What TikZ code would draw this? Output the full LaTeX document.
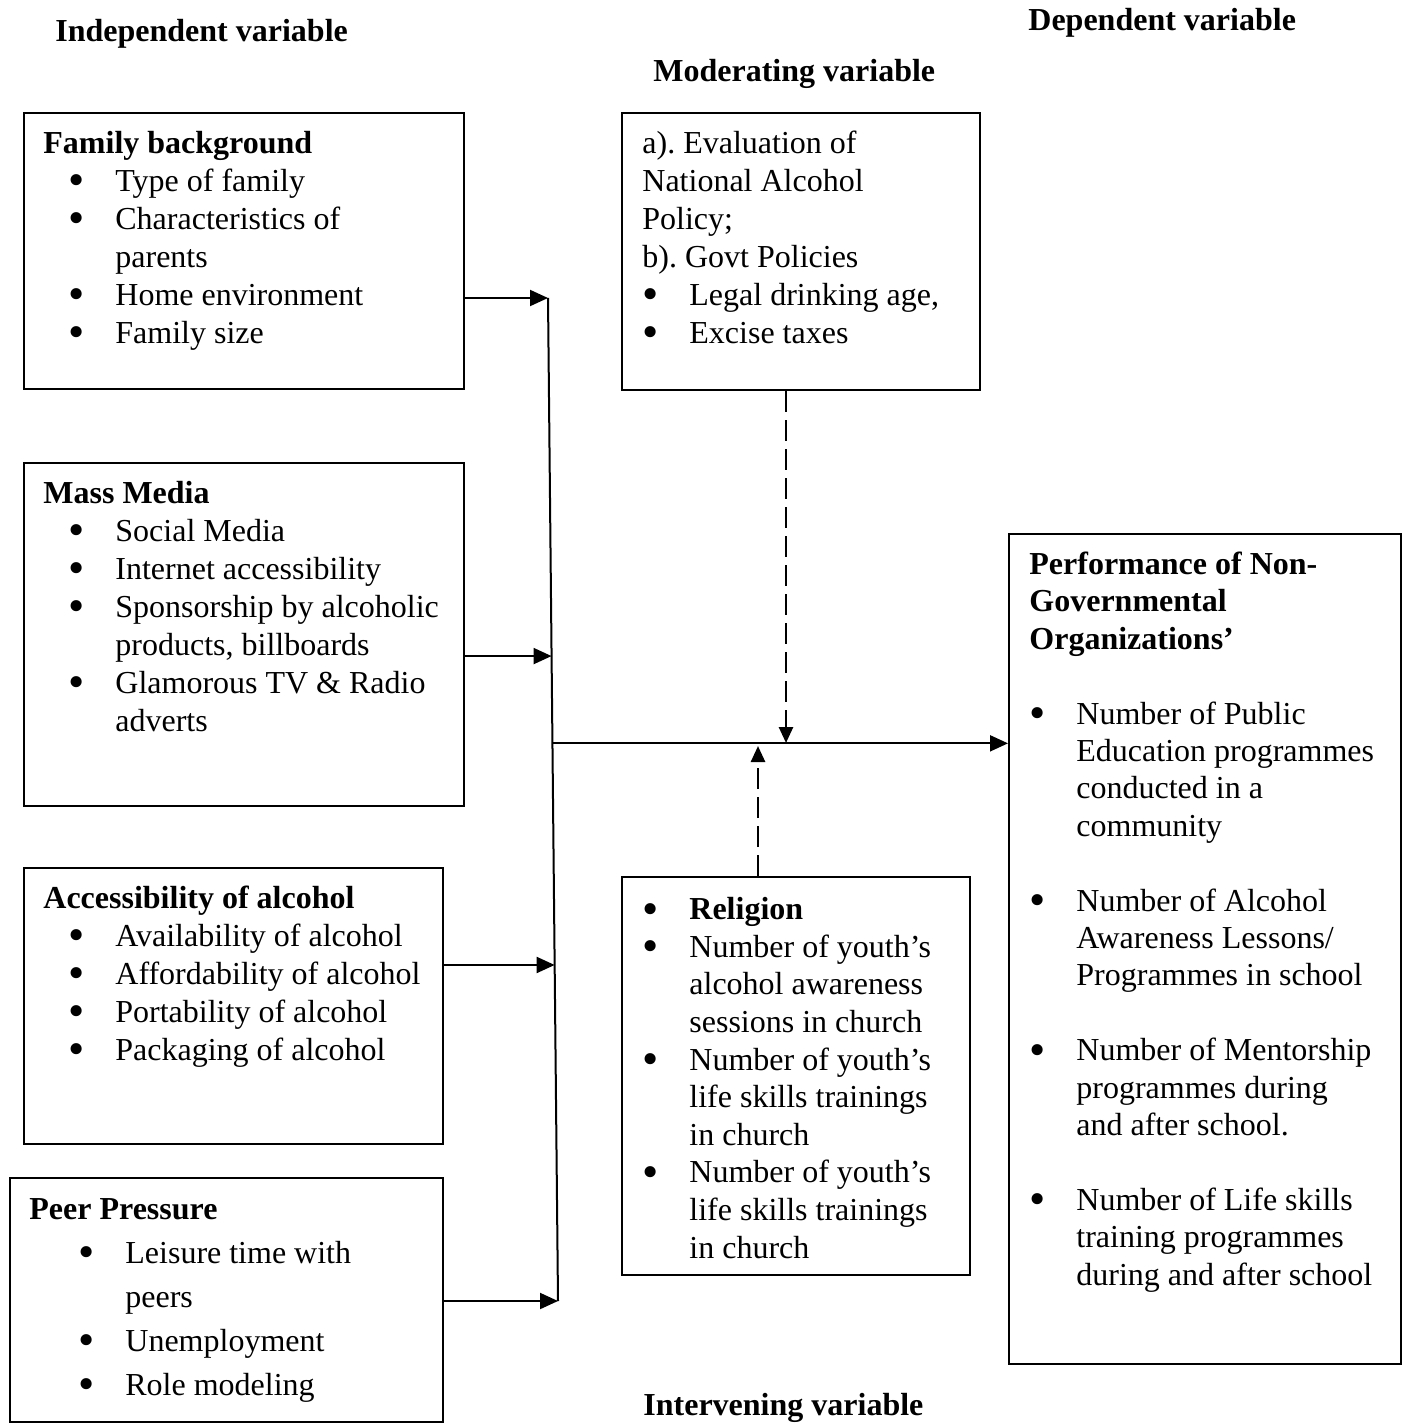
\documentclass[tikz,border=0pt]{standalone}
\usepackage{fontspec}
\usepackage{graphicx}
\setmainfont{Liberation Serif}
\usetikzlibrary{arrows.meta, calc}
\frenchspacing
\newcommand{\bul}{\makebox[23.5pt][l]{\smash{\raisebox{-2.2pt}{\scalebox{1.45}{\textbullet}}}}}
\newcommand{\cont}{\hspace*{23.5pt}}

\begin{document}
\begin{tikzpicture}[x=0.5pt, y=-0.5pt,
    box/.style={draw, line width=1pt, inner sep=0pt, anchor=north west},
    txt/.style={anchor=north west, inner sep=0pt, align=left, font=\fontsize{16pt}{19pt}\selectfont},
    txtb/.style={txt, font=\fontsize{16pt}{18.7pt}\selectfont},
    ttl/.style={anchor=base west, inner sep=0pt, font=\fontsize{16pt}{19pt}\selectfont\bfseries},
    arr/.style={line width=1pt, -{Triangle[length=9pt, width=8pt]}},
    dasharr/.style={line width=1.3pt, dash pattern=on 10.5pt off 4pt, -{Triangle[length=8pt, width=7pt]}}]
    \useasboundingbox (0,0) rectangle (1410,1423);

    % headings
    \node[ttl] (tind) at (55,42) {Independent variable};
    \node[ttl] (tdep) at (1028,31) {Dependent variable};
    \node[ttl] (tmod) at (653,82) {Moderating variable};
    \node[ttl] (tint) at (643,1415) {Intervening variable};

    % independent variables
    \node[box, minimum width=220pt, minimum height=138pt] (fam) at (23,112) {};
    \node[txt] (famtxt) at (43,126) {\strut\textbf{Family background}\\
      \hspace*{12.5pt}\bul Type of family\\
      \hspace*{12.5pt}\bul Characteristics of\\
      \hspace*{36pt}parents\\
      \hspace*{12.5pt}\bul Home environment\\
      \hspace*{12.5pt}\bul Family size};

    \node[box, minimum width=220pt, minimum height=171.5pt] (media) at (23,462) {};
    \node[txt] (mediatxt) at (43,476) {\strut\textbf{Mass Media}\\
      \hspace*{12.5pt}\bul Social Media\\
      \hspace*{12.5pt}\bul Internet accessibility\\
      \hspace*{12.5pt}\bul Sponsorship by alcoholic\\
      \hspace*{36pt}products, billboards\\
      \hspace*{12.5pt}\bul Glamorous TV \& Radio\\
      \hspace*{36pt}adverts};

    \node[box, minimum width=209.5pt, minimum height=138pt] (access) at (23,867) {};
    \node[txt] (accesstxt) at (43,881) {\strut\textbf{Accessibility of alcohol}\\
      \hspace*{12.5pt}\bul Availability of alcohol\\
      \hspace*{12.5pt}\bul Affordability of alcohol\\
      \hspace*{12.5pt}\bul Portability of alcohol\\
      \hspace*{12.5pt}\bul Packaging of alcohol};

    \node[box, minimum width=216.5pt, minimum height=122pt] (peer) at (9,1177) {};
    \node[txt, font=\fontsize{16pt}{22pt}\selectfont] (peertxt) at (29,1188) {\strut\textbf{Peer Pressure}\\
      \hspace*{24.5pt}\bul Leisure time with\\
      \hspace*{48pt}peers\\
      \hspace*{24.5pt}\bul Unemployment\\
      \hspace*{24.5pt}\bul Role modeling};

    % moderating and intervening variables
    \node[box, minimum width=179pt, minimum height=138.5pt] (moder) at (621,112) {};
    \node[txt] (modertxt) at (642,126) {\strut a). Evaluation of\\
      National Alcohol\\
      Policy;\\
      b). Govt Policies\\
      \bul Legal drinking age,\\
      \bul Excise taxes};

    \node[box, minimum width=174pt, minimum height=199pt] (relig) at (621,876) {};
    \node[txtb, font=\fontsize{16pt}{18.8pt}\selectfont] (religtxt) at (642,893) {\strut\bul\textbf{Religion}\\
      \bul Number of youth’s\\
      \cont alcohol awareness\\
      \cont sessions in church\\
      \bul Number of youth’s\\
      \cont life skills trainings\\
      \cont in church\\
      \bul Number of youth’s\\
      \cont life skills trainings\\
      \cont in church};

    % dependent variable
    \node[box, minimum width=196pt, minimum height=415pt] (perf) at (1008,533) {};
    \node[txtb] (perftxt) at (1029,548) {\strut\textbf{Performance of Non-}\\
      \textbf{Governmental}\\
      \textbf{Organizations’}\\[18.7pt]
      \bul Number of Public\\
      \cont Education programmes\\
      \cont conducted in a\\
      \cont community\\[18.7pt]
      \bul Number of Alcohol\\
      \cont Awareness Lessons/\\
      \cont Programmes in school\\[18.7pt]
      \bul Number of Mentorship\\
      \cont programmes during\\
      \cont and after school.\\[18.7pt]
      \bul Number of Life skills\\
      \cont training programmes\\
      \cont during and after school};

    % connectors
    \coordinate (jtop) at (548,298);
    \coordinate (jbot) at (558,1301);
    \coordinate (jmed) at ($(jtop)!0.357!(jbot)$);
    \coordinate (jacc) at ($(jtop)!0.665!(jbot)$);
    \coordinate (hub) at ($(jtop)!0.444!(jbot)$);
    \draw[line width=1pt] (jtop) -- (jbot);
    \draw[arr] (fam.east |- jtop) -- (jtop);
    \draw[arr] (media.east |- jmed) -- (jmed);
    \draw[arr] (access.east |- jacc) -- (jacc);
    \draw[arr] (peer.east |- jbot) -- (jbot);
    \draw[arr] (hub) -- (perf.west |- hub);

    \coordinate (mtip) at (786,743);
    \coordinate (rtip) at (758,746);
    \draw[dasharr] (moder.south -| mtip) -- (mtip);
    \draw[dasharr] (relig.north -| rtip) -- (rtip);
\end{tikzpicture}
\end{document}
